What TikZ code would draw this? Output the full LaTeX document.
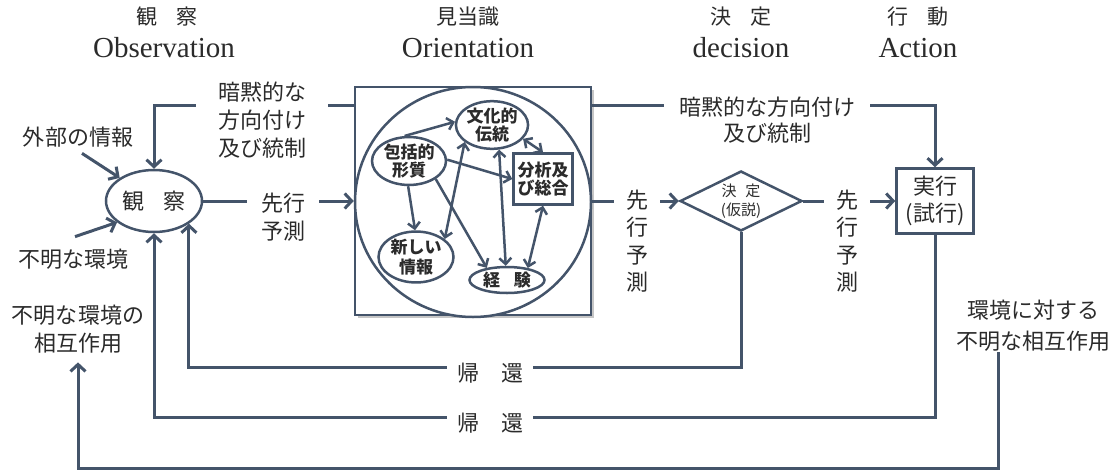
\documentclass[tikz,border=0pt]{standalone}
\usepackage{fontspec}
\setmainfont{Liberation Serif}
\newfontfamily\jp{Noto Sans CJK JP}
\usetikzlibrary{shapes.geometric,arrows.meta,shadows}
\definecolor{lc}{HTML}{44546A}
\definecolor{tc}{HTML}{2B2B2B}
\begin{document}
\begin{tikzpicture}[x=1pt,y=-1pt,
  conn/.style={draw=lc,line width=3pt},
  arr/.style={conn,-{Straight Barb[length=7pt,width=15pt]}},
  iarr/.style={draw=lc,line width=2.5pt,-{Straight Barb[length=6pt,width=12pt]}},
  idarr/.style={draw=lc,line width=2.5pt,{Straight Barb[length=6pt,width=12pt]}-{Straight Barb[length=6pt,width=12pt]}},
  jt/.style={font=\jp\fontsize{22}{28}\selectfont,text=tc,inner sep=0pt,align=center},
  lab/.style={jt,fill=white},
  hd/.style={font=\jp\fontsize{21}{25}\selectfont,text=tc,inner sep=0pt},
  en/.style={font=\fontsize{29}{32}\selectfont,text=tc,inner sep=0pt},
  el/.style={ellipse,draw=lc,line width=2.5pt,inner sep=0pt,fill=white},
  itx/.style={font=\jp\bfseries\fontsize{17}{17.5}\selectfont,text=tc,align=center},
  bx/.style={draw=lc,line width=2.5pt,fill=white,inner sep=0pt}
]
\useasboundingbox (0,0) rectangle (1118,471);

% headers
\node[hd] (h1) at (167,17) {観\hspace{0.9em}察};
\node[en] (e1) at (164,48) {Observation};
\node[hd] (h2) at (468,17) {見当識};
\node[en] (e2) at (468,48) {Orientation};
\node[hd] (h3) at (741,17) {決\hspace{0.9em}定};
\node[en] (e3) at (741,48) {decision};
\node[hd] (h4) at (918,17) {行\hspace{0.9em}動};
\node[en] (e4) at (918,48) {Action};

% main nodes
\node[el,jt,minimum width=96pt,minimum height=62pt] (obs) at (154,201) {観\hspace{0.9em}察};
\node[bx,drop shadow={shadow xshift=3pt,shadow yshift=-3pt,opacity=0.45},minimum width=236pt,minimum height=228pt] (ori) at (473,201) {};
\node[el,minimum width=236pt,minimum height=230pt] (circ) at (473,202) {};
\node[diamond,aspect=2,draw=lc,line width=2.5pt,inner sep=0pt,minimum width=122pt,minimum height=60pt,
      font=\jp\fontsize{15}{19}\selectfont,text=tc,align=center] (dec) at (741,201) {決\hspace{0.6em}定\\(仮説)};
\node[bx,jt,minimum width=77pt,minimum height=65pt,font=\jp\fontsize{22}{27}\selectfont] (act) at (935,201) {実行\\(試行)};

% inner nodes
\node[el,itx,minimum width=62pt,minimum height=40pt] (cult) at (492,125) {文化的\\伝統};
\node[el,itx,minimum width=74pt,minimum height=38pt] (gen) at (409,161) {包括的\\形質};
\node[bx,itx,minimum width=59pt,minimum height=51pt] (anal) at (543,179) {分析及\\び総合};
\node[el,itx,minimum width=75pt,minimum height=47pt,font=\jp\bfseries\fontsize{17}{20}\selectfont] (newi) at (416,257) {新しい\\情報};
\node[el,itx,minimum width=75pt,minimum height=26pt] (exp) at (507,280) {経\hspace{0.8em}験};

% inner arrows
\draw[iarr] (gen.100) -- (cult.175);
\draw[iarr] (gen.2) -- (anal.west);
\draw[iarr] (gen.268) -- (newi.92);
\draw[iarr] (gen.-34) -- (exp.149);
\draw[idarr] (cult.212) -- (newi.32);
\draw[idarr] (cult.286) -- (exp.95);
\draw[idarr] (cult.-24) -- (anal.north);
\draw[idarr] (anal.south) -- (exp.30);

% side labels
\node[jt] (ext) at (78,137) {外部の情報};
\node[jt] (unk) at (73,259) {不明な環境};
\node[jt] (envL) at (78,329) {不明な環境の\\相互作用};
\node[jt,font=\jp\fontsize{22}{31}\selectfont] (envR) at (1033,326) {環境に対する\\不明な相互作用};

% connectors
\coordinate (tl) at (154,105);
\coordinate (tr) at (935,105);
\coordinate (fb1) at (0,367);
\coordinate (fb2) at (0,417);
\coordinate (c3) at (998,468);

\draw[arr] (ori.west |- tl) -- (tl) -- (obs.north);
\draw[arr] (ori.east |- tr) -- (tr) -- (act.north);
\draw[arr] (obs.east) -- (ori.west);
\draw[arr] (ori.east) -- (dec.west);
\draw[arr] (dec.east) -- (act.west);
\draw[arr] (dec.south) -- (dec.south |- fb1) -- (obs.-33 |- fb1) -- (obs.-33);
\draw[arr] (act.south) -- (act.south |- fb2) -- (obs.south |- fb2) -- (obs.south);
\draw[arr] (c3 |- envR.south) -- (c3) -- (c3 -| envL.south) -- ([yshift=-9pt]envL.south);
\draw[arr] ([xshift=4pt,yshift=-6pt]ext.south) -- (obs.146);
\draw[arr] ([xshift=2pt,yshift=12pt]unk.north) -- (obs.210);

% connector labels
\node[lab,inner xsep=22pt] (l1) at (262,120) {暗黙的な\\方向付け\\及び統制};
\node[lab,inner xsep=14pt] (l2) at (283,217) {先行\\予測};
\node[lab,inner xsep=15pt,font=\jp\fontsize{22}{26}\selectfont] (l3) at (767,120) {暗黙的な方向付け\\及び統制};
\node[lab,inner xsep=12pt,font=\jp\fontsize{22}{27.5}\selectfont] (l4) at (637,241) {先\\行\\予\\測};
\node[lab,inner xsep=12pt,font=\jp\fontsize{22}{27.5}\selectfont] (l5) at (847,241) {先\\行\\予\\測};
\node[lab,inner xsep=10pt] (l6) at (490,373) {帰\hspace{1em}還};
\node[lab,inner xsep=10pt] (l7) at (490,423) {帰\hspace{1em}還};
\end{tikzpicture}
\end{document}
